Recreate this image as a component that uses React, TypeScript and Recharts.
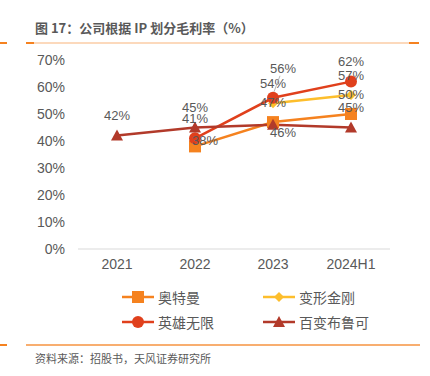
import { LineChart, Line, XAxis, YAxis, Legend } from "recharts";

const categories = ["2021", "2022", "2023", "2024H1"];
const ultraman = [null, 38, 47, 50];
const transformers = [null, null, 54, 57];
const heroInfinite = [null, 41, 56, 62];
const bloks = [42, 45, 46, 45];
const yTicks = [0, 10, 20, 30, 40, 50, 60, 70];

const data = categories.map((cat, i) => ({
	cat,
	ultraman: ultraman[i],
	transformers: transformers[i],
	heroInfinite: heroInfinite[i],
	bloks: bloks[i],
}));

const series = [
	{ key: "ultraman", name: "奥特曼", color: "#F5821F", shape: "square" },
	{ key: "transformers", name: "变形金刚", color: "#FDBE2C", shape: "diamond" },
	{ key: "heroInfinite", name: "英雄无限", color: "#E0401C", shape: "circle" },
	{ key: "bloks", name: "百变布鲁可", color: "#B23A2A", shape: "triangle" },
];

// label nudges so the numbers don't pile on top of each other
const labelNudge: Record<string, Record<number, [number, number]>> = {
	ultraman: { 1: [10, -6] },
	heroInfinite: { 2: [10, -29] },
	bloks: { 2: [10, 8] },
};

const grey = "#595959";

function Marker({ cx, cy, shape, color }: any) {
	if (cx == null || cy == null) return null;
	if (shape === "square")
		return <rect x={cx - 6} y={cy - 6} width={12} height={12} fill={color} />;
	if (shape === "diamond")
		return (
			<polygon
				points={`${cx},${cy - 5} ${cx + 5},${cy} ${cx},${cy + 5} ${cx - 5},${cy}`}
				fill={color}
			/>
		);
	if (shape === "circle") return <circle cx={cx} cy={cy} r={6} fill={color} />;
	return (
		<polygon
			points={`${cx},${cy - 6} ${cx + 6},${cy + 5} ${cx - 6},${cy + 5}`}
			fill={color}
		/>
	);
}

function makeLabel(key: string) {
	return (props: any) => {
		const { x, y, value, index } = props;
		if (value == null) return null;
		const [dx, dy] = labelNudge[key]?.[index] ?? [0, -20];
		return (
			<g>
				{key === "heroInfinite" && index === 2 && (
					<line x1={x + 7} y1={y - 22} x2={x + 1} y2={y - 6} stroke="#A6A6A6" strokeWidth={0.8} />
				)}
				<text
					x={x + dx}
					y={y + dy}
					textAnchor="middle"
					dominantBaseline="central"
					fill={grey}
					fontSize={13}
					fontFamily="'Liberation Sans', Arial, sans-serif"
				>
					{value}%
				</text>
			</g>
		);
	};
}

function LegendContent() {
	return (
		<div
			style={{
				display: "grid",
				gridTemplateColumns: "141px 150px",
				rowGap: 8,
				marginLeft: 104,
				marginTop: 9,
				fontFamily: "'Noto Sans CJK SC', sans-serif",
				fontSize: 14,
				color: grey,
			}}
		>
			{series.map((s) => (
				<div key={s.key} style={{ display: "flex", alignItems: "center", height: 17 }}>
					<svg width={32} height={14} style={{ marginRight: 4 }}>
						<line x1={0} y1={7} x2={32} y2={7} stroke={s.color} strokeWidth={2.5} />
						<Marker cx={16} cy={7} shape={s.shape} color={s.color} />
					</svg>
					<span>{s.name}</span>
				</div>
			))}
		</div>
	);
}

export default function App() {
	return (
		<div
			style={{
				position: "absolute",
				left: 0,
				top: 0,
				width: 430,
				height: 376,
				background: "#fff",
				overflow: "hidden",
			}}
		>
			<div
				style={{
					position: "absolute",
					left: 35,
					top: 18,
					fontFamily: "'Noto Sans CJK SC', sans-serif",
					fontSize: 13,
					fontWeight: 700,
					color: grey,
				}}
			>
				图 17：公司根据 IP 划分毛利率（%）
			</div>
			<div style={{ position: "absolute", left: 0, top: 42, width: 7, height: 2, background: "#F58220" }} />
			<div style={{ position: "absolute", left: 26, top: 42, width: 393, height: 2, background: "#FCD9BC" }} />
			<div style={{ position: "absolute", left: 26, top: 42, width: 8, height: 2, background: "#F58220" }} />
			<div style={{ position: "absolute", left: 409, top: 42, width: 10, height: 2, background: "#F58220" }} />

			<div style={{ position: "absolute", left: 0, top: 50 }}>
				<LineChart
					width={430}
					height={280}
					data={data}
					margin={{ top: 10, right: 40, bottom: 0, left: 18 }}
				>
					<XAxis
						dataKey="cat"
						axisLine={{ stroke: "#D9D9D9" }}
						tickLine={false}
						tickMargin={4}
						height={30}
						padding={{ left: 39, right: 39 }}
						tick={{ fill: grey, fontSize: 14, fontFamily: "'Liberation Sans', Arial, sans-serif" }}
					/>
					<YAxis
						width={60}
						domain={[0, 70]}
						ticks={yTicks}
						axisLine={false}
						tickLine={false}
						tickMargin={7}
						tickFormatter={(v) => `${v}%`}
						tick={{ fill: grey, fontSize: 14, fontFamily: "'Liberation Sans', Arial, sans-serif" }}
					/>
					<Legend
						verticalAlign="bottom"
						height={51}
						content={() => <LegendContent />}
					/>
					{series.map((s) => (
						<Line
							key={s.key}
							dataKey={s.key}
							name={s.name}
							type="linear"
							stroke={s.color}
							strokeWidth={2.5}
							dot={(p: any) => <Marker key={`${s.key}-${p.index}`} {...p} shape={s.shape} color={s.color} />}
							activeDot={false}
							label={makeLabel(s.key)}
							isAnimationActive={false}
						/>
					))}
				</LineChart>
			</div>

			<div style={{ position: "absolute", left: 0, top: 344, width: 7, height: 2, background: "#F58220" }} />
			<div style={{ position: "absolute", left: 26, top: 344, width: 394, height: 2, background: "#F8AE70" }} />
			<div
				style={{
					position: "absolute",
					left: 35,
					top: 350,
					fontFamily: "'Noto Sans CJK SC', sans-serif",
					fontSize: 11,
					color: grey,
				}}
			>
				资料来源：招股书，天风证券研究所
			</div>
		</div>
	);
}
